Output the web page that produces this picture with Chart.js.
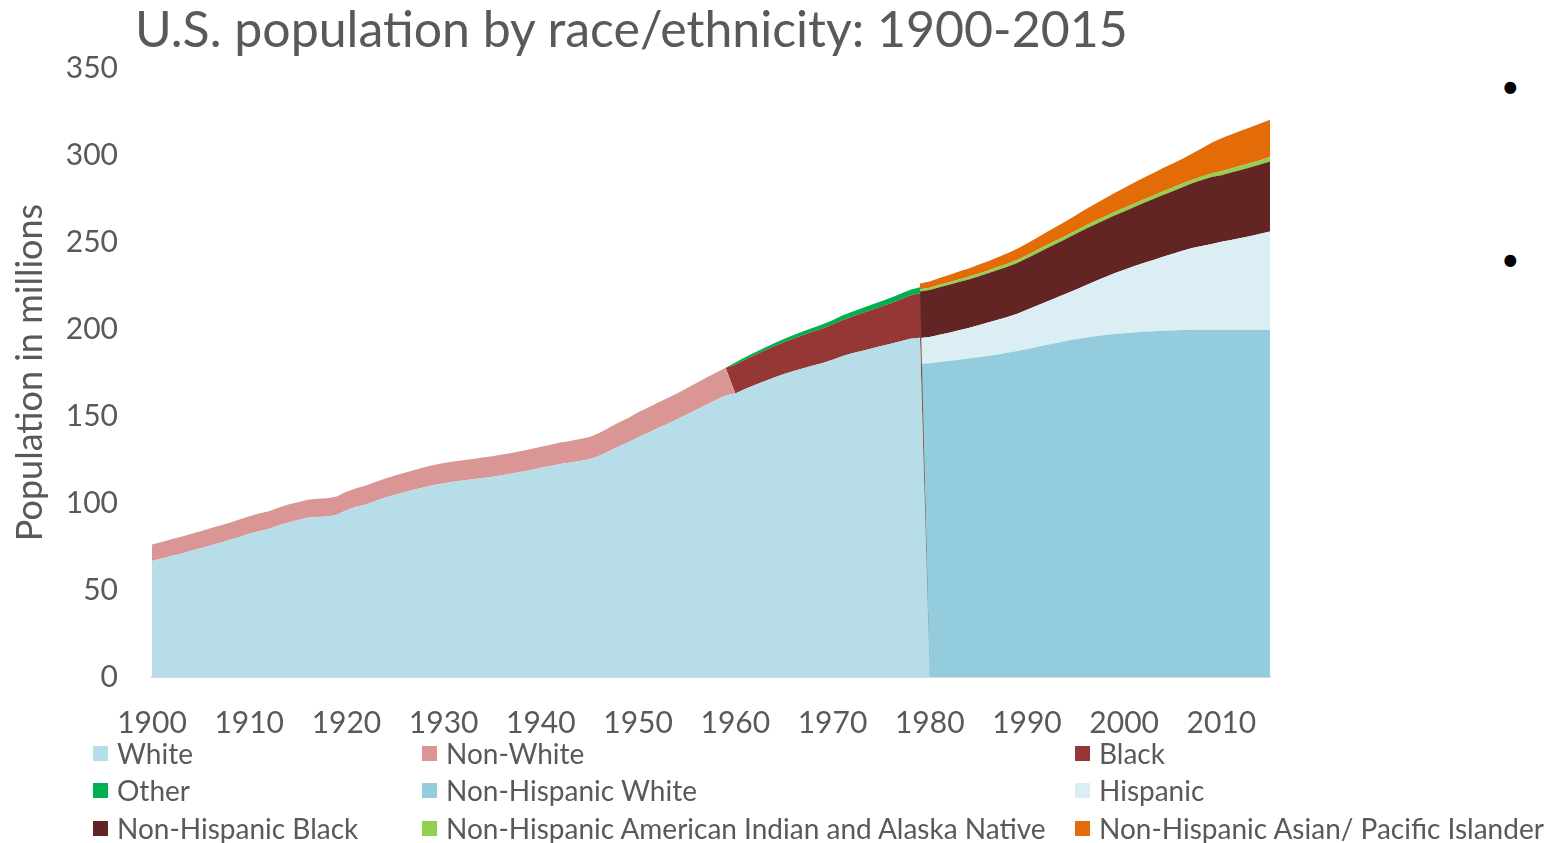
<!DOCTYPE html>
<html>
<head>
<meta charset="utf-8">
<script src="https://cdn.jsdelivr.net/npm/chart.js@4.4.1/dist/chart.umd.min.js"></script>
<style>
  html, body { margin: 0; padding: 0; background: #fff; }
  body { width: 1548px; height: 843px; position: relative; overflow: hidden; font-family: Lato, "Open Sans", sans-serif; color: #595959; }
  #grafica { position: absolute; left: 0; top: 0; }
  #titulo { position: absolute; left: 135px; top: 0; font-size: 50px; line-height: 56px; white-space: nowrap; }
  .bala { position: absolute; font-size: 32px; line-height: 32px; color: #000; }
  .item { position: absolute; font-size: 28px; line-height: 30px; white-space: nowrap; display: flex; align-items: center; }
  .item i { display: inline-block; width: 15px; height: 15px; margin-right: 9px; }
</style>
</head>
<body>
<div id="titulo">U.S. population by race/ethnicity: 1900-2015</div>
<div class="bala" style="left:1501px; top:70px;">•</div>
<div class="bala" style="left:1501px; top:243px;">•</div>
<canvas id="grafica" width="1548" height="843"></canvas>
<div id="leyenda"></div>

<script>
// years on the category axis
const years = Array.from({ length: 116 }, (_, i) => 1900 + i);

// 1900-1979
const white = [
  66.7, 68.1, 69.6, 70.9, 72.5, 74.0, 75.6, 77.1, 78.7, 80.5,
  82.3, 83.8, 85.1, 87.0, 88.8, 90.2, 91.5, 92.0, 92.3, 93.3,
  95.9, 97.8, 99.2, 101.1, 103.1, 104.7, 106.2, 107.7, 109.1, 110.3,
  111.4, 112.2, 112.9, 113.6, 114.3, 115.1, 116.0, 116.9, 117.9, 119.0,
  120.2, 121.3, 122.4, 123.3, 124.2, 125.2, 127.2, 129.8, 132.5, 134.9,
  137.8, 140.3, 142.9, 145.4, 148.1, 150.8, 153.6, 156.5, 159.2, 161.8,
  163.0, 165.5, 167.8, 170.0, 172.1, 174.1, 175.9, 177.5, 179.0, 180.4,
  182.3, 184.3, 186.0, 187.4, 188.8, 190.2, 191.5, 192.9, 194.4, 194.9
];
// 1900-1959
const nonWhite = [
  9.4, 9.5, 9.6, 9.7, 9.7, 9.8, 9.9, 9.9, 10.0, 10.0,
  10.1, 10.1, 10.2, 10.2, 10.3, 10.3, 10.4, 10.4, 10.4, 10.5,
  10.6, 10.7, 10.8, 10.9, 11.0, 11.1, 11.2, 11.3, 11.4, 11.5,
  11.6, 11.6, 11.7, 11.7, 11.8, 11.8, 11.9, 11.9, 12.0, 12.0,
  12.1, 12.2, 12.3, 12.4, 12.6, 12.8, 13.1, 13.4, 13.7, 14.0,
  14.3, 14.5, 14.7, 14.8, 14.9, 15.1, 15.3, 15.5, 15.7, 16.0
];
// 1960-1979
const black = [
  16.4, 16.8, 17.2, 17.6, 18.0, 18.3, 18.7, 19.1, 19.5, 19.9,
  20.3, 20.7, 21.1, 21.6, 22.1, 22.7, 23.3, 24.0, 24.8, 25.6
];
const other = [
  1.3, 1.4, 1.5, 1.6, 1.7, 1.9, 2.0, 2.1, 2.2, 2.4,
  2.5, 2.7, 2.8, 2.9, 3.0, 3.1, 3.2, 3.3, 3.4, 3.5
];
// 1979-2015 (the second series set already shows at 1979 in the original)
const nhWhite = [
  180.0,
  180.3, 181.0, 181.6, 182.3, 183.0, 183.7, 184.5, 185.4, 186.3, 187.3,
  188.4, 189.6, 190.8, 192.0, 193.1, 194.1, 195.0, 195.8, 196.5, 197.1,
  197.6, 198.0, 198.4, 198.7, 199.0, 199.2, 199.4, 199.5, 199.6, 199.6,
  199.6, 199.6, 199.6, 199.5, 199.5, 199.4
];
const hispanic = [
  14.8,
  15.1, 15.7, 16.3, 17.0, 17.6, 18.4, 19.2, 19.9, 20.6, 21.5,
  22.6, 23.7, 24.8, 25.9, 27.1, 28.5, 30.0, 31.6, 33.2, 34.9,
  36.5, 38.0, 39.5, 41.0, 42.5, 44.0, 45.5, 47.0, 48.1, 49.2,
  50.5, 51.6, 52.7, 53.9, 55.2, 56.6
];
const nhBlack = [
  26.8,
  27.0, 27.3, 27.5, 27.7, 27.9, 28.1, 28.3, 28.6, 28.9, 29.2,
  29.6, 30.1, 30.6, 31.1, 31.5, 32.0, 32.4, 32.7, 33.0, 33.3,
  33.5, 34.0, 34.5, 35.0, 35.5, 36.0, 36.6, 37.2, 37.9, 38.6,
  38.3, 38.7, 39.1, 39.5, 39.8, 40.2
];
const nhIndian = [
  1.3,
  1.3, 1.4, 1.4, 1.5, 1.5, 1.6, 1.6, 1.7, 1.7, 1.8,
  1.8, 1.8, 1.9, 1.9, 1.9, 1.9, 2.0, 2.0, 2.0, 2.0,
  2.0, 2.0, 2.0, 2.0, 2.1, 2.1, 2.1, 2.1, 2.1, 2.1,
  2.2, 2.3, 2.4, 2.5, 2.5, 2.6
];
const nhAsian = [
  3.3,
  3.6, 3.9, 4.2, 4.5, 4.8, 5.1, 5.4, 5.7, 6.0, 6.3,
  6.7, 7.1, 7.5, 7.9, 8.3, 8.7, 9.3, 9.8, 10.3, 10.8,
  11.5, 12.0, 12.5, 13.0, 13.4, 13.8, 14.3, 15.0, 16.2, 17.6,
  19.0, 19.6, 20.1, 20.6, 21.1, 21.5
];

const seriesNames = [
  'White', 'Non-White', 'Black', 'Other', 'Non-Hispanic White', 'Hispanic',
  'Non-Hispanic Black', 'Non-Hispanic American Indian and Alaska Native', 'Non-Hispanic Asian/ Pacific Islander'
];
const seriesData = [white, nonWhite, black, other, nhWhite, hispanic, nhBlack, nhIndian, nhAsian];
const seriesStart = [1900, 1900, 1960, 1960, 1979, 1979, 1979, 1979, 1979];
const colores = ['#b7dde8', '#d99694', '#953735', '#00b050', '#93cddd', '#dbeef4', '#632523', '#92d050', '#e36c09'];

// old categories: empty years count as zero (drop to the axis);
// new categories: nothing before they start
const extender = (valores, inicio, vacio) =>
  years.map((y) => (y >= inicio && y < inicio + valores.length ? valores[y - inicio] : vacio));

const texto = '#595959';
const fuente = 'Lato, "Open Sans", sans-serif';

const datasets = seriesNames.map((nombre, i) => {
  const nuevo = i >= 4;
  return {
    label: nombre,
    data: extender(seriesData[i], seriesStart[i], nuevo ? null : 0),
    stack: nuevo ? 'desde1980' : 'hasta1979',
    backgroundColor: colores[i],
    borderColor: colores[i],
    borderWidth: 0,
    pointRadius: 0,
    fill: i === 0 || i === 4 ? 'origin' : '-1',
    tension: 0
  };
});

new Chart(document.getElementById('grafica'), {
  type: 'line',
  data: { labels: years.map(String), datasets },
  options: {
    responsive: false,
    animation: false,
    devicePixelRatio: 1,
    layout: { padding: { left: 0, top: 68, right: 278, bottom: 106 } },
    plugins: { legend: { display: false }, tooltip: { enabled: false } },
    scales: {
      x: {
        grid: { display: false, drawTicks: false },
        border: { color: '#d9d9d9', width: 2 },
        ticks: {
          autoSkip: false,
          maxRotation: 0,
          padding: 28,
          color: texto,
          font: { family: fuente, size: 30 },
          callback: (v, i) => (years[i] % 10 === 0 ? String(years[i]) : '')
        },
        afterFit: (s) => { s.height = 60; }
      },
      y: {
        stacked: true,
        min: 0,
        max: 350,
        grid: { display: false, drawTicks: false },
        border: { display: false },
        ticks: { stepSize: 50, padding: 34, color: texto, font: { family: fuente, size: 30 } },
        title: {
          display: true,
          text: 'Population in millions',
          color: texto,
          font: { family: fuente, size: 36 },
          padding: { top: 9, bottom: 0 }
        },
        afterFit: (s) => { s.width = 152; }
      }
    }
  }
});

// legend in three columns, like the original
const leyenda = document.getElementById('leyenda');
const columnas = [93, 422, 1075];
const filas = [753, 790, 828];
seriesNames.forEach((nombre, i) => {
  const x = columnas[i % 3];
  const y = filas[Math.floor(i / 3)];
  leyenda.innerHTML += `<div class="item" style="left:${x}px; top:${y - 15}px;"><i style="background:${colores[i]}"></i>${nombre}</div>`;
});
</script>
</body>
</html>
